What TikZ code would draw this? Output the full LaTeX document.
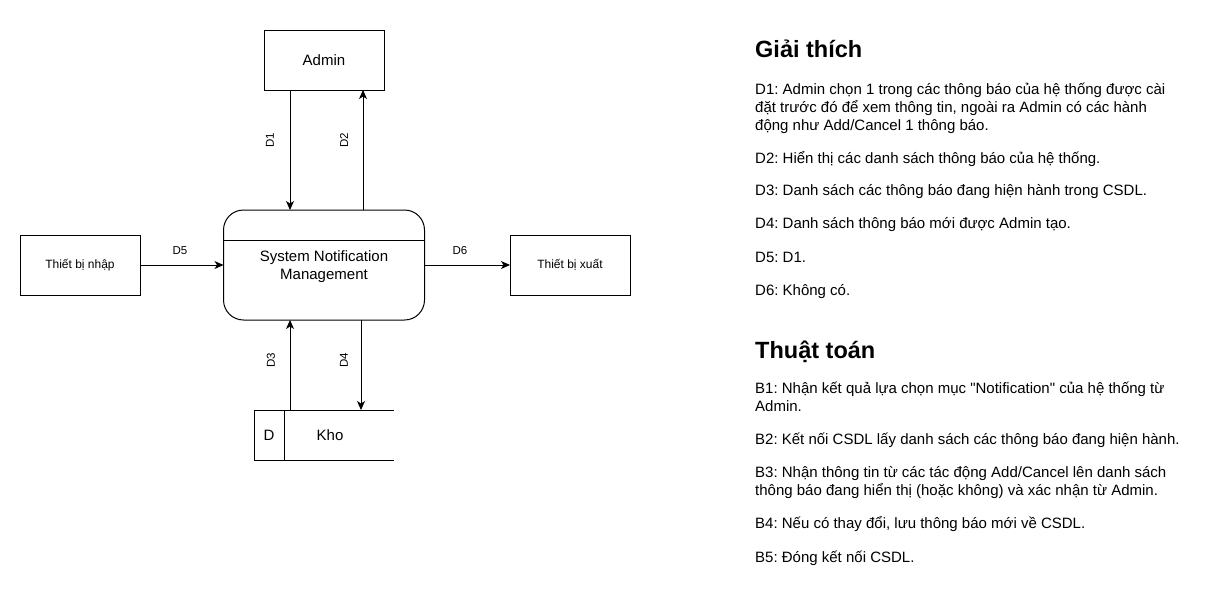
\documentclass[tikz,border=0pt]{standalone}
\usepackage{fontspec}
\setmainfont{Liberation Sans}
\usetikzlibrary{arrows.meta,calc}
\begin{document}
\frenchspacing
\begin{tikzpicture}[x=1pt,y=-1pt,
  box/.style={draw,line width=1pt,minimum width=120pt,minimum height=60pt,inner sep=0pt,outer sep=0pt},
  proc/.style={draw,line width=1pt,rounded corners=20pt,minimum width=201pt,minimum height=110pt,inner sep=0pt,outer sep=0pt},
  arr/.style={line width=1pt,-{Stealth[length=9pt,width=8pt,inset=2.5pt]}},
  lbl/.style={font=\fontsize{11.5}{13}\selectfont,inner sep=0pt},
  hd/.style={anchor=base west,inner sep=0pt,font=\fontsize{23.5}{28}\selectfont\bfseries},
  tx/.style={anchor=base west,inner sep=0pt,font=\fontsize{15}{18}\selectfont}
]
\useasboundingbox (0,0) rectangle (1211,611);
\fill[white] (0,0) rectangle (1211,611);

% entities
\node[box,font=\fontsize{15}{18}\selectfont] (admin) at (324,60) {Admin};
\node[box,font=\fontsize{12}{14}\selectfont] (nhap) at (80,265) {Thiết bị nhập};
\node[box,font=\fontsize{12}{14}\selectfont] (xuat) at (570,265) {Thiết bị xuất};
\node[proc] (proc) at (324,265) {};
\node[align=center,inner sep=0pt,font=\fontsize{15}{18}\selectfont] (proct) at (324,267) {System Notification\\Management};
\draw[line width=1pt] ($(proc.north west)+(0,30)$) -- ($(proc.north east)+(0,30)$);

% data store
\node[minimum width=140pt,minimum height=50pt,inner sep=0pt,outer sep=0pt] (kho) at (324,435) {};
\draw[line width=1pt] (kho.north east) -- (kho.north west) -- (kho.south west) -- (kho.south east);
\draw[line width=1pt] ([xshift=30pt]kho.north west) -- ([xshift=30pt]kho.south west);
\node[font=\fontsize{15}{18}\selectfont,inner sep=0pt] (khoD) at (269,435) {D};
\node[font=\fontsize{15}{18}\selectfont,inner sep=0pt] (khoT) at (330,435) {Kho};

% flows
\draw[arr] ([xshift=-34pt]admin.south) -- ([xshift=-34pt]proc.north);
\draw[arr] ([xshift=39pt]proc.north) -- ([xshift=39pt]admin.south);
\draw[arr] ([xshift=-34pt]kho.north) -- ([xshift=-34pt]proc.south);
\draw[arr] ([xshift=37pt]proc.south) -- ([xshift=37pt]kho.north);
\draw[arr] (nhap.east) -- (proc.west |- nhap.east);
\draw[arr] (proc.east |- xuat.west) -- (xuat.west);

\node[lbl,rotate=90] (l1) at (270,140) {D1};
\node[lbl,rotate=90] (l2) at (344,140) {D2};
\node[lbl,rotate=90] (l3) at (271,360) {D3};
\node[lbl,rotate=90] (l4) at (344,360) {D4};
\node[lbl] (l5) at (180,251) {D5};
\node[lbl] (l6) at (460,251) {D6};

% explanation
\node[hd] (h1) at (755,57.5) {Giải thích};
\node[tx] (d1a) at (755,94) {D1: Admin chọn 1 trong các thông báo của hệ thống được cài};
\node[tx] (d1b) at (755,112) {đặt trước đó để xem thông tin, ngoài ra Admin có các hành};
\node[tx] (d1c) at (755,130) {động như Add/Cancel 1 thông báo.};
\node[tx] (d2) at (755,163) {D2: Hiển thị các danh sách thông báo của hệ thống.};
\node[tx] (d3) at (755,195.5) {D3: Danh sách các thông báo đang hiện hành trong CSDL.};
\node[tx] (d4) at (755,228.5) {D4: Danh sách thông báo mới được Admin tạo.};
\node[tx] (d5) at (755,262) {D5: D1.};
\node[tx] (d6) at (755,295) {D6: Không có.};

\node[hd] (h2) at (755,358.5) {Thuật toán};
\node[tx] (b1a) at (755,393) {B1: Nhận kết quả lựa chọn mục \textquotedbl Notification\textquotedbl\ của hệ thống từ};
\node[tx] (b1b) at (755,411) {Admin.};
\node[tx] (b2) at (755,444) {B2: Kết nối CSDL lấy danh sách các thông báo đang hiện hành.};
\node[tx] (b3a) at (755,477) {B3: Nhận thông tin từ các tác động Add/Cancel lên danh sách};
\node[tx] (b3b) at (755,495) {thông báo đang hiển thị (hoặc không) và xác nhận từ Admin.};
\node[tx] (b4) at (755,528) {B4: Nếu có thay đổi, lưu thông báo mới về CSDL.};
\node[tx] (b5) at (755,562) {B5: Đóng kết nối CSDL.};
\end{tikzpicture}
\end{document}
